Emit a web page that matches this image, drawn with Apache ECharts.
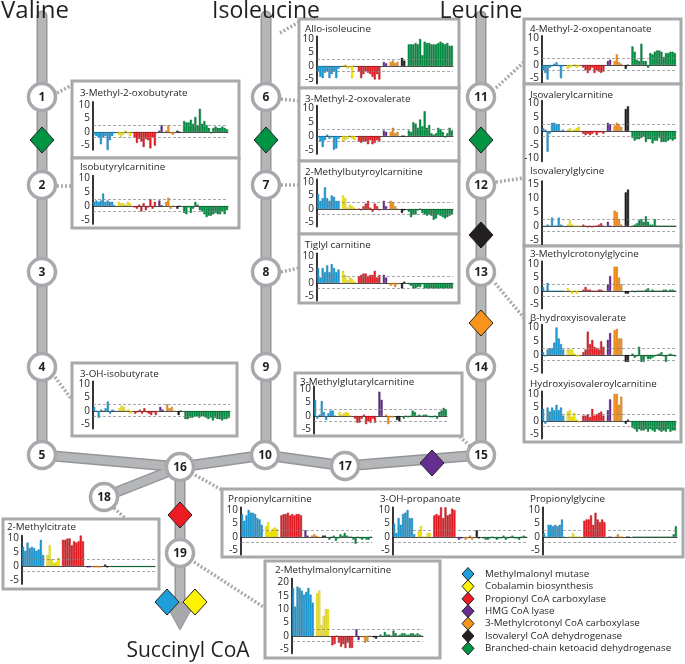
<!DOCTYPE html>
<html>
<head>
<meta charset="utf-8">
<script src="https://cdn.jsdelivr.net/npm/echarts@6/dist/echarts.min.js"></script>
<style>
  html, body { margin: 0; padding: 0; background: #fff; }
  #main { width: 685px; height: 664px; }
</style>
</head>
<body>
<div id="main"></div>
<script>
// bar groups in every small chart: blue, yellow, red, purple, orange, black, green
var groupNames = ['Methylmalonyl mutase', 'Cobalamin biosynthesis', 'Propionyl CoA carboxylase', 'HMG CoA lyase',
  '3-Methylcrotonyl CoA carboxylase', 'Isovaleryl CoA dehydrogenase', 'Branched-chain ketoacid dehydrogenase'];
var groupColors = ['#1e9fd9', '#fff200', '#ed1c24', '#662d91', '#f7941e', '#231f20', '#009444'];
var groupEdges = ['#11709e', '#b3a800', '#a5141a', '#42195f', '#b0650f', '#000000', '#00602b'];

// values per chart: [blue, yellow, red, purple, orange, black, green]
var methylOxobutyrate = [
  [-1, -1.5, -2, -4.5, -2, -1.5, -7, -3, -1.5, -0.5],
  [-1, -2, -1, 0.5, -0.5, -1.5],
  [-2, -4, -2.5, -3.5, -5.5, -2.5, -3, -6, -2, -5],
  [0.5, 2.5],
  [0.5, 2.5, -0.5, -1],
  [0.5, 0],
  [4, 3.5, 3.5, 4.5, 3, 5.5, 2.5, 8.5, 3, 4, 2.5, 1.5, -0.5, 1.5, 2, 1.5, 1.5, 2, 1.5, 1]
];
var isobutyrylcarnitine = [
  [1.5, 2, 1.5, 2, 4.5, 1.5, 2, 1.5, 1.5, 0.3],
  [1.5, 1, 1, 0.5, 1.5, 1],
  [-0.5, -1, 0.5, -2, 1, -1.5, -0.5, 2.5, -1, 1.5],
  [2, 0.3],
  [1.5, 3, -1, 0],
  [-1, 0],
  [-2.5, -3, -0.5, -2.5, -1, 1.5, 0.5, -1.5, -2, -3, -4, -3.5, -3.5, -3, -2.5, -3, -3, -2, -3, -1.5]
];
var ohIsobutyrate = [
  [1.5, 0, -2.5, 0.5, 0, 1, 3.5, -1, 0.5, 0],
  [1, 2, 1.5, 0, 0.5, -1],
  [-1, -0.5, 0.5, -1, 1, -0.5, -1, -1.5, -0.5, -1.5],
  [1.5, 0.5],
  [2.5, 1, 1.5, 0],
  [-1.5, 0],
  [-3, -3, -2.5, -2.5, -2, -2, -2.5, -2, -2, -2.5, -3, -2.5, -3.5, -2.5, -3, -3, -3.5, -3, -3, -2.5]
];
var alloIsoleucine = [
  [-2, -4, -4.5, -2.5, -2, -4.5, -3, -2, -4.5, -1],
  [0, 0.5, -1, -0.5, -4.5, 0],
  [-2, -4.5, -3, -2, -2.5, -3, -4, -5, -3, -5],
  [1.5, 1],
  [1.5, 2, 1, 1.5],
  [3, 2],
  [8, 8, 8, 8.5, 8, 10, 4, 9, 8.5, 8.5, 8, 8, 8, 8.5, 9, 8.5, 8, 8.5, 7.5, 7.5]
];
var methylOxovalerate = [
  [-0.5, -2, -4, -1.5, 0.5, -1, -0.5, -5, -4.5, -1],
  [-2, -1.5, -1, 0, -1, -1.5],
  [-2, -2.5, -2, -2, -3, -1.5, -3, -2.5, -1.5, -2],
  [2, 1.5],
  [1.5, 3, 1, 1.5],
  [0, 0],
  [2, 1.5, 5, 4.5, 3, 6, 3.5, 9, 3, 4, 1, 0.5, 1, 3, 2.5, 1.5, -0.5, 1, 3, 2]
];
var methylbutyroylcarnitine = [
  [5.5, 3, 4, 8, 4, 3, 5, 4.5, 3, 3],
  [5, 4, 0.5, 1.5, 1, 0.5],
  [0, -0.5, 1, 2, 3, 0.5, -1, 2, 1, -0.5],
  [3, 1],
  [3, 2.5, 1, 0],
  [-1.5, -0.5],
  [-1, -3, -2, -2, -0.5, 0, -1.5, -2, -2.5, -2, -2.5, -4, -3.5, -2, -2.5, -3, -3.5, -3, -2.5, -2]
];
var tiglylCarnitine = [
  [5.5, 2, 5.5, 4, 6.5, 4, 7, 5.5, 4, 5],
  [4.5, 3, 1, 2, 1.5, 0.5],
  [2.5, 3, 3.5, 3.5, 2.5, 3, 3, 4.5, 2, 3],
  [3, 2],
  [-1, -0.5, -1.5, -0.5],
  [-2, 0.5],
  [-0.5, -1, -2, -2, -1.5, -1.5, -0.5, -2, -2, -2, -2, -2, -2, -2, -2, -2, -2, -2, -2, -2]
];
var methylglutarylcarnitine = [
  [6, -1, 0.5, 5.5, 1.5, -1.5, 1, 2, 2, 0],
  [1.5, 0.5, 1, 1.5, 1, 0],
  [-1, -2.5, -2.5, -1, 0.5, -3, -2, -2.5, -1, -2.5],
  [9, 6],
  [0.5, -3, -0.5, -0.5],
  [-1.5, -2],
  [-1, 0, -0.5, 0, 2, 1.5, 0, 0.5, 0, 0.5, 0.5, 0, -0.5, -0.5, 0, -1, 1.5, 2, 3, 2.5]
];
var methylOxopentanoate = [
  [-2, -3, -5.5, -1, -0.5, 0.5, 1, -0.5, -5, -0.5],
  [-1.5, -1, -0.5, 0, -1, -0.5],
  [-1, -2, -3, -2, -1, -3, -2, -2.5, -3, -2.5],
  [1.5, 2],
  [1.5, 4, 1, 0.5],
  [-1.5, 0],
  [7, 5, 2, 1.5, 8, 1.5, 1.5, -1, 4.5, 4, 5, 5.5, 5.5, 5, 3, 4.5, 4.5, 5, 5, 4.5]
];
var isovalerylcarnitine = [
  [1, 0.5, -7.5, -1, 3, 3, 2.5, 2.5, 0, 0.5],
  [0.5, 1, 0, 0.5, 1, 1.5],
  [-1, -1.5, -1, -1.5, -1, -0.5, -1.5, -0.5, -0.5, -1],
  [3, 2.5],
  [2, 3, 2.5, 1.5],
  [8, 9],
  [-2.5, -3.5, -3, -3, -2.5, -2, -4, -3, -3, -4.5, -3.5, -3.5, -2.5, -4, -4, -4, -3.5, -3, -3.5, -3]
];
var isovalerylglycine = [
  [0, 0, 0.5, 0, 3, 0, 0, 3, 0.5, 0],
  [0.5, 2, 0.5, 0, 0, 0],
  [0.5, 0, -0.5, 0, -0.5, 0, 0, 0.5, 1, 0],
  [1.5, 0],
  [5.5, 5, 2.5, 0.5],
  [12, 13],
  [0, 0.5, 1, 2, 2.5, 1.5, 3.5, 1.5, 0.5, 0.5, 2.5, 0, 0, 0, 0, 0, 0, 0, 0, 0]
];
var methylcrotonylglycine = [
  [1.5, 0, 3, 0, 0, 0, 0, 0, 0, 0],
  [1, 0, -1, 0, -1, 0],
  [0.5, 1.5, 0.5, 0.5, 0, 0, 0, 0.5, 0.5, 0],
  [2.5, 5.5],
  [9, 9, 5, 2.5],
  [-1, -1],
  [0, -0.5, 0, 0, 0, 0, 0.5, 1, 0, 0.5, 0, 0, 0, 0, 0.5, 0.5, 0, 0.5, 0.5, 0]
];
var hydroxyisovalerate = [
  [1, -0.5, 2, 2.5, 2.5, 4.5, 10, 6, 4, 2],
  [2, 2, 2, 0.5, -0.5, -0.5],
  [1, 2, 8.5, 4, 5.5, 3, 2.5, 2, 5, 3],
  [5.5, 8],
  [9, 9.5, 6, 6],
  [-2.5, -2.5],
  [0.5, -1, -0.5, 3, -2.5, -2.5, -0.5, -1.5, -1.5, -1, -0.5, 0, 0.5, 1, -0.5, -2.5, 0, 0.5, 0, -0.5]
];
var hydroxyisovaleroylcarnitine = [
  [4.5, -1, 5, 3.5, 5, 4, 6, 4, 5, 2],
  [3.5, 4, 1.5, 3, 0.5, -0.5],
  [2, 2, 2.5, 1.5, 4.5, 2, 2.5, 3, 3.5, 2],
  [4, 8],
  [10, 10, 6, 9],
  [-1, 0.5],
  [-2.5, -3, -4, -3, -3.5, -3.5, -3, -4, -3, -3.5, -4, -3, -3.5, -4, -3.5, -4, -3, -4, -3.5, -3.5]
];
var propionylcarnitine = [
  [8.5, 6, 8, 10, 9, 9, 8.5, 7, 6.5, 4.5],
  [4, 5.5, 2, 3, 3.5, 3],
  [8, 8.5, 8.5, 9, 8, 8.5, 8, 8.5, 8.5, 8],
  [2.5, 0.5],
  [0.5, 1, 0.5, 0],
  [0.5, 0.5],
  [-1, 0, 0.5, -1.5, -0.5, 1, 0.5, 1.5, 0.5, 0, 0, -1, -2.5, 0, -0.5, -1, -0.5, -1, -1, 0]
];
var ohPropanoate = [
  [5, 1.5, 7, 4.5, 8.5, 9, 10, 7, 7, 1],
  [2, 4, 0, 0, 1.5, 1.5],
  [8, 8.5, 8, 11, 7, 11, 8, 8.5, 10.5, 10],
  [-1, -0.5],
  [-1, -0.5, 0.5, -1],
  [2.5, -0.5],
  [-0.5, -1, -1, -0.5, 0, -0.5, -1, -0.5, -0.5, 0.5, -1, -0.5, 0, 0.5, -0.5, -0.5, -1, 0, 0.5, 0]
];
var propionylglycine = [
  [1.5, 0, 4.5, 4.5, 4, 4.5, 4, 4.5, 6.5, 0],
  [0, 0, 1.5, 0, 0, 0],
  [6, 6.5, 6.5, 8, 4.5, 9, 6.5, 5.5, 6.5, 5.5],
  [0, 0],
  [0, 1, 0, 0],
  [0, 0],
  [0, 0, 0, 0, 0, 0, 0, 0, 0, 0, 0, 0, 0, 0, 0, 0, 0, 0, 1, 4]
];
var methylcitrate = [
  [7, 5.5, 8.5, 6.5, 7, 6.5, 5.5, 6, 9.5, 4],
  [4, 7.5, 2.5, 1, 1.5, 3],
  [9.5, 9.5, 10, 10, 7.5, 9, 8.5, 9, 11.5, 9],
  [-0.5, -0.5],
  [-0.5, -0.5, -0.5, -0.5],
  [0.5, -0.5],
  [-0.4, -0.4, -0.4, -0.4, -0.4, -0.4, -0.4, -0.4, -0.4, -0.4, -0.4, -0.4, -0.4, -0.4, -0.4, -0.4, -0.4, -0.4, -0.4, -0.4]
];
var methylmalonylcarnitine = [
  [18, 11, 18.5, 18, 17, 15.5, 16.5, 18, 15.5, 12.5],
  [16, 17, 4, 7.5, 10, 10],
  [-3.5, -3, 0, -2.5, -4, -3, -4.5, -2.5, -4.5, -4.5],
  [2.5, -1.5],
  [-0.5, -2.5, -2, 0],
  [-0.5, -1],
  [0.5, 0, 1.5, 0.5, 0.5, 0, 2, 1, 0, 0.5, 1, 1, 0.5, 0.5, 1, 1, 0.5, 1, 0.5, 0]
];

var ticksStd = [-5, 0, 5, 10];

// chart layout: axis x, right end, zero line y, px per unit, y range, title position
var charts = [
  {title: '3-Methyl-2-oxobutyrate', data: methylOxobutyrate, x0: 93, x1: 228, y0: 132, s: 2.73, tx: 80, ty: 93},
  {title: 'Isobutyrylcarnitine', data: isobutyrylcarnitine, x0: 93, x1: 228, y0: 206, s: 2.75, tx: 80, ty: 167},
  {title: '3-OH-isobutyrate', data: ohIsobutyrate, x0: 93, x1: 230, y0: 411, s: 2.7, tx: 80, ty: 374},
  {title: 'Allo-isoleucine', data: alloIsoleucine, x0: 317, x1: 453, y0: 66, s: 2.7, tx: 305, ty: 29},
  {title: '3-Methyl-2-oxovalerate', data: methylOxovalerate, x0: 317, x1: 453, y0: 136, s: 2.75, tx: 305, ty: 99},
  {title: '2-Methylbutyroylcarnitine', data: methylbutyroylcarnitine, x0: 317, x1: 453, y0: 209, s: 2.7, tx: 305, ty: 172},
  {title: 'Tiglyl carnitine', data: tiglylCarnitine, x0: 317, x1: 453, y0: 283, s: 2.7, tx: 305, ty: 245},
  {title: '3-Methylglutarylcarnitine', data: methylglutarylcarnitine, x0: 314, x1: 447, y0: 416, s: 2.7, tx: 300, ty: 382},
  {title: '4-Methyl-2-oxopentanoate', data: methylOxopentanoate, x0: 542, x1: 676, y0: 65, s: 2.65, tx: 530, ty: 29},
  {title: 'Isovalerylcarnitine', data: isovalerylcarnitine, x0: 542, x1: 676, y0: 131, s: 2.75, tx: 530, ty: 95, min: -11, ticks: [-10, -5, 0, 5, 10]},
  {title: 'Isovalerylglycine', data: isovalerylglycine, x0: 542, x1: 676, y0: 226, s: 2.8, tx: 530, ty: 171, max: 16, ticks: [-5, 0, 5, 10, 15]},
  {title: '3-Methylcrotonylglycine', data: methylcrotonylglycine, x0: 542, x1: 676, y0: 291, s: 2.7, tx: 530, ty: 254},
  {title: 'β-hydroxyisovalerate', data: hydroxyisovalerate, x0: 542, x1: 676, y0: 355, s: 2.75, tx: 530, ty: 318},
  {title: 'Hydroxyisovaleroylcarnitine', data: hydroxyisovaleroylcarnitine, x0: 542, x1: 676, y0: 421, s: 2.7, tx: 530, ty: 384},
  {title: 'Propionylcarnitine', data: propionylcarnitine, x0: 241, x1: 372, y0: 537, s: 2.7, tx: 228, ty: 499},
  {title: '3-OH-propanoate', data: ohPropanoate, x0: 393, x1: 527, y0: 537, s: 2.7, tx: 380, ty: 499},
  {title: 'Propionylglycine', data: propionylglycine, x0: 543, x1: 677, y0: 537, s: 2.7, tx: 530, ty: 499},
  {title: '2-Methylcitrate', data: methylcitrate, x0: 22, x1: 155, y0: 566, s: 2.75, tx: 7, ty: 527},
  {title: '2-Methylmalonylcarnitine', data: methylmalonylcarnitine, x0: 292, x1: 423, y0: 636, s: 2.67, tx: 275, ty: 570, max: 21.5, ticks: [-5, 0, 5, 10, 15, 20]}
];

var grids = [], xAxes = [], yAxes = [], series = [], els = [];
var gray = '#a7a9ac';
var smallFont = '9.8px "Open Sans"';

function rect(x, y, w, h) {
  els.push({type: 'rect', z: -5, silent: true, shape: {x: x, y: y, width: w, height: h},
    style: {fill: '#fff', stroke: gray, lineWidth: 3}});
}
function line(pts, color, width, dash, z) {
  els.push({type: 'polyline', z: z, silent: true, shape: {points: pts},
    style: {fill: null, stroke: color, lineWidth: width, lineDash: dash || null, lineJoin: 'round', lineCap: dash ? 'butt' : 'round'}});
}
function diamond(x, y, w, h, color, z) {
  els.push({type: 'polygon', z: z, silent: true, shape: {points: [[x, y - h], [x + w, y], [x, y + h], [x - w, y]]},
    style: {fill: color, stroke: '#231f20', lineWidth: 1}});
}
function text(x, y, str, font, align) {
  els.push({type: 'text', z: 10, silent: true,
    style: {x: x, y: y, text: str, font: font, fill: '#231f20', textAlign: align || 'left', textVerticalAlign: 'middle'}});
}
function node(x, y, label) {
  els.push({type: 'circle', z: -2, silent: true, shape: {cx: x, cy: y, r: 13.5},
    style: {fill: '#fff', stroke: gray, lineWidth: 3.5}});
  text(x, y + 1, label, 'bold 12px "Open Sans"', 'center');
}

// pathway lines
var paths = [
  [[42, 16], [42, 455]],
  [[266, 16], [266, 455]],
  [[481, 16], [481, 455]],
  [[42, 455], [180, 467], [265, 455], [345, 466], [481, 455]],
  [[180, 467], [104, 497]],
  [[180, 467], [180, 608]]
];
paths.forEach(function (p) {
  line(p, '#939598', 11, null, -9);
});
paths.forEach(function (p) {
  line(p, '#b4b6b8', 8, null, -8);
});
els.push({type: 'polygon', z: -7, silent: true, shape: {points: [[165, 603], [195, 603], [180, 630]]},
  style: {fill: '#a7a9ac', stroke: '#939598', lineWidth: 1}});

// dotted connectors from nodes to boxes
var connectors = [
  [[57, 93], [72, 85]], [[57, 186], [72, 186]], [[55, 377], [72, 400]],
  [[280, 33], [299, 22]], [[281, 99], [299, 101]], [[281, 185], [299, 185]], [[281, 272], [299, 268]],
  [[496, 88], [524, 62]], [[496, 182], [524, 178]], [[495, 283], [524, 318]], [[470, 446], [460, 437]],
  [[195, 475], [222, 490]], [[114, 508], [126, 519]], [[194, 562], [265, 608]]
];
connectors.forEach(function (c) {
  line(c, '#a7a9ac', 3.5, [2, 2], -6);
});

// boxes
rect(72, 81, 167, 77); rect(72, 158, 167, 70);
rect(72, 363, 165, 73);
rect(299, 19, 160, 69); rect(299, 88, 160, 73); rect(299, 161, 160, 73); rect(299, 234, 160, 69);
rect(295, 373, 167, 63);
rect(524, 19, 157, 65); rect(524, 84, 157, 162); rect(524, 246, 157, 196);
rect(222, 489, 461, 68);
rect(3, 519, 156, 70);
rect(265, 561, 175, 97);

// numbered nodes
var nodes = [
  [42, 97, '1'], [42, 185, '2'], [42, 272, '3'], [42, 367, '4'], [42, 455, '5'],
  [266, 97, '6'], [266, 185, '7'], [266, 272, '8'], [266, 367, '9'], [265, 455, '10'],
  [481, 97, '11'], [481, 185, '12'], [481, 272, '13'], [481, 367, '14'], [481, 455, '15'],
  [180, 467, '16'], [345, 466, '17'], [104, 497, '18'], [180, 553, '19']
];
nodes.forEach(function (n) { node(n[0], n[1], n[2]); });

// enzyme diamonds on the pathways
diamond(42, 140, 12, 13, groupColors[6], -1);
diamond(266, 140, 12, 13, groupColors[6], -1);
diamond(481, 140, 12, 13, groupColors[6], -1);
diamond(481, 235, 12, 13, groupColors[5], -1);
diamond(481, 323, 12, 13, groupColors[4], -1);
diamond(432, 463, 12, 13, groupColors[3], -1);
diamond(180, 515, 12, 13, groupColors[2], -1);
diamond(167, 602, 12, 13, groupColors[0], -1);
diamond(195, 602, 12, 13, groupColors[1], -1);

// headings
text(1, 11, 'Valine', '24px "Open Sans"');
text(266, 11, 'Isoleucine', '23px "Open Sans"', 'center');
text(481, 11, 'Leucine', '23px "Open Sans"', 'center');
text(188, 651, 'Succinyl CoA', '21px "Open Sans"', 'center');

// legend
groupNames.forEach(function (name, i) {
  var y = 574 + i * 12.4;
  diamond(468, y, 6, 6.5, groupColors[i], 5);
  text(485, y, name, smallFont);
});

charts.forEach(function (c, i) {
  var ymax = c.max || 11;
  var ymin = c.min || -6.5;
  var cats = [], vals = [];
  c.data.forEach(function (grp, g) {
    if (g > 0) { cats.push('gap' + g); vals.push('-'); }
    grp.forEach(function (v, k) {
      cats.push(g + '_' + k);
      vals.push({value: v, itemStyle: {color: groupColors[g], borderColor: groupEdges[g], borderWidth: 0.4}});
    });
  });
  grids.push({left: c.x0, top: c.y0 - ymax * c.s, width: c.x1 - c.x0, height: (ymax - ymin) * c.s});
  xAxes.push({
    gridIndex: i, type: 'category', data: cats,
    axisLine: {onZero: true, lineStyle: {color: '#231f20', width: 0.8}},
    axisTick: {show: false}, axisLabel: {show: false}, splitLine: {show: false}
  });
  yAxes.push({
    gridIndex: i, type: 'value', min: ymin, max: ymax,
    axisLine: {show: true, lineStyle: {color: '#231f20', width: 1.8}},
    axisTick: {show: false}, splitLine: {show: false},
    axisLabel: {customValues: c.ticks || ticksStd, fontSize: 10, color: '#231f20', margin: 3, fontFamily: 'Open Sans'}
  });
  series.push({
    type: 'bar', xAxisIndex: i, yAxisIndex: i, data: vals,
    barCategoryGap: '6%', silent: true,
    markLine: {
      silent: true, symbol: ['none', 'none'], label: {show: false},
      lineStyle: {type: [3, 2], color: '#808285', width: 0.7},
      data: [{yAxis: 2.5}, {yAxis: -2}]
    }
  });
  text(c.tx, c.ty, c.title, smallFont);
});

var chart = echarts.init(document.getElementById('main'));
chart.setOption({
  animation: false,
  textStyle: {fontFamily: 'Open Sans'},
  grid: grids,
  xAxis: xAxes,
  yAxis: yAxes,
  series: series,
  graphic: {elements: els}
});
</script>
</body>
</html>
